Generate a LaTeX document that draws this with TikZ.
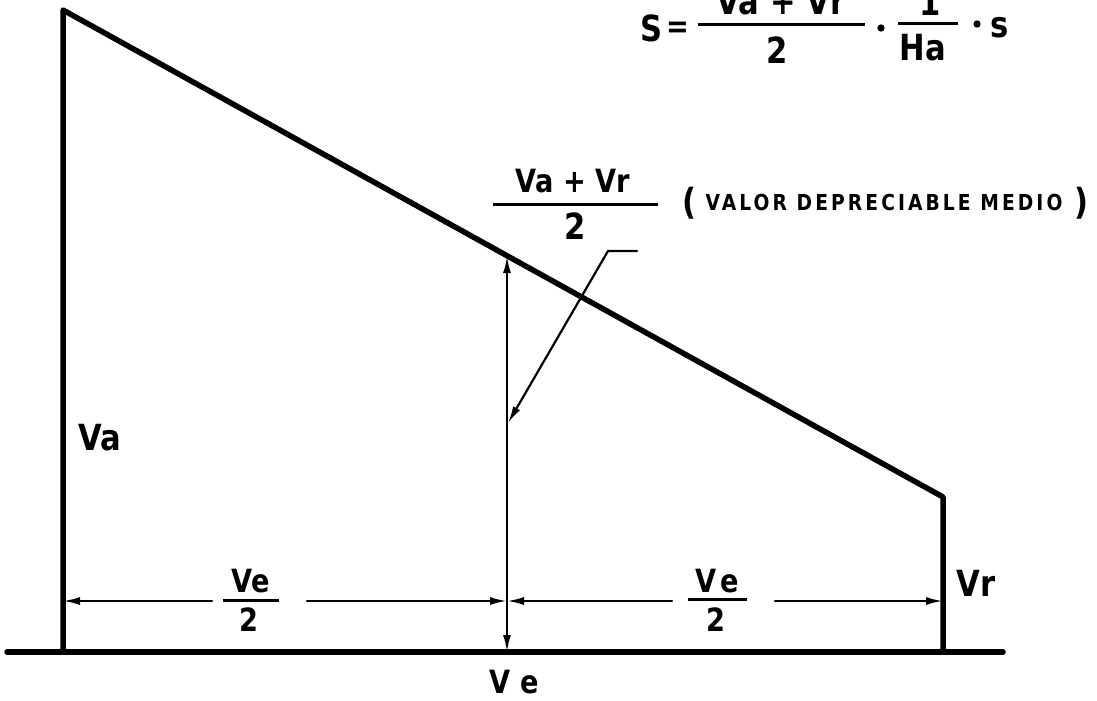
\documentclass[tikz,border=0pt]{standalone}
\usepackage{fontspec}
\setmainfont{DejaVu Sans}[FakeStretch=0.85]
\usetikzlibrary{arrows.meta,positioning,calc}

\begin{document}
\begin{tikzpicture}[x=1pt,y=-1pt,line cap=round,line join=round,
    >={Latex[length=17pt,width=8pt]},
    every node/.style={inner sep=0pt},
    main/.style={line width=5.5pt},
    dim/.style={line width=2.2pt},
    fbar/.style={line width=3pt,line cap=butt},
    big/.style={font=\fontsize{36}{40}\selectfont\bfseries},
    mid/.style={font=\fontsize{32}{36}\selectfont\bfseries},
    small/.style={font=\fontsize{22}{26}\selectfont\bfseries\addfontfeature{LetterSpace=14}},
    dot/.style={circle,fill,inner sep=2.6pt}]
    \clip (0,0) rectangle (1097,701);
    % outline
    \coordinate (A) at (63,10);
    \coordinate (B) at (943,497);
    \coordinate (C) at (943,652);
    \coordinate (D) at (63,652);
    \coordinate (L0) at (7,652);
    \coordinate (R0) at (1003,652);
    \draw[main] (D) -- (A) -- (B) -- (C);
    \draw[main] (L0) -- (R0);
    % height of the mean value
    \coordinate (Mt) at (507,256);
    \coordinate (Mb) at (507,652);
    \draw[dim,<->] (Mt) -- (Mb);
    % dimension line
    \coordinate (d1) at (63,601);
    \coordinate (d2) at (507,601);
    \coordinate (d3) at (943,601);
    \coordinate (g1) at (212,601);
    \coordinate (g2) at (307,601);
    \coordinate (g3) at (672,601);
    \coordinate (g4) at (775,601);
    \draw[dim,->] (g1) -- (d1);
    \draw[dim,->] (g2) -- (d2);
    \draw[dim,->] (g3) -- (d2);
    \draw[dim,->] (g4) -- (d3);
    \node[mid] (hn1) at (251,581) {Ve};
    \draw[fbar] (223,600) -- (279,600);
    \node[mid] (hd1) at (249,620) {2};
    \node[mid] (hn2) at (717,581) {V\kern4pt e};
    \draw[fbar] (688,599) -- (747,599);
    \node[mid] (hd2) at (716,620) {2};
    % labels
    \node[big] (Va) at (100,438) {Va};
    \node[big] (Vr) at (976,583) {Vr};
    \node[mid] (Ve) at (514,682) {V\kern10pt e};
    % mean value
    \node[mid] (mn) at (573,181) {Va + Vr};
    \draw[fbar] (493,204) -- (658,204);
    \node[big] (md) at (575,226) {2};
    \node[big] (po) at (689,203) {(};
    \node[small] (val) at (884,202) {VALOR DEPRECIABLE MEDIO};
    \node[big] (pc) at (1081,203) {)};
    \coordinate (k1) at (637,251);
    \coordinate (k2) at (608,251);
    \coordinate (k3) at (508,423);
    \draw[dim,->] (k1) -- (k2) -- (k3);
    % formula
    \node[big] (S) at (652,28) {S};
    \node[mid] (eq) at (678,30) {=};
    \node[big] (fn) at (781,2) {Va + Vr};
    \draw[fbar] (698,25) -- (865,25);
    \node[big] (fd) at (777,50) {2};
    \node[dot] (p1) at (881,28) {};
    \node[big] (one) at (930,2) {1};
    \draw[fbar] (898,24) -- (958,24);
    \node[big] (Ha) at (923,48) {Ha};
    \node[dot] (p2) at (977,24) {};
    \node[big] (s) at (1000,28) {s};
\end{tikzpicture}
\end{document}
